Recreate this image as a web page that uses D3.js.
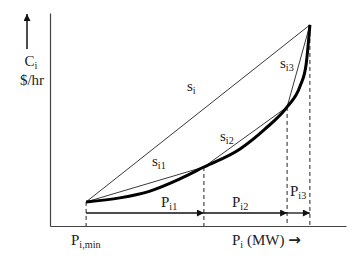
<!DOCTYPE html>
<html>
<head>
<meta charset="utf-8">
<script src="https://cdn.jsdelivr.net/npm/d3@7"></script>
<style>
  body { margin: 0; background: #fff; }
  text { font-family: "Liberation Serif", "DejaVu Serif", serif; fill: #222; }
</style>
</head>
<body>
<div id="chart"></div>
<script>
// breakpoints on the cost curve: Pmin, P1, P2, Pmax (MW) and cost ($/hr)
var breakP = [12.2, 52.0, 80.1, 87.8];
var breakC = [11.3, 27.7, 55.9, 94.4];

// thick cost curve
var curveP = [12.2, 23.6, 33.8, 43.9, 52.0, 64.2, 72.6, 80.1, 84.5, 86.5, 87.8];
var curveC = [11.3, 13.2, 16.4, 22.1, 27.7, 36.2, 45.5, 55.9, 65.7, 75.6, 94.4];

var segLabels = ["P", "P", "P"];
var segSubs = ["i1", "i2", "i3"];
var slopeSubs = ["i1", "i2", "i3"];

var svgWidth = 364;
var svgHeight = 259;

var svg = d3.select("#chart")
  .append("svg")
  .attr("width", svgWidth)
  .attr("height", svgHeight);

var x = d3.scaleLinear().domain([0, 100]).range([50, 346]);
var y = d3.scaleLinear().domain([0, 100]).range([226, 13]);

// arrow marker
svg.append("defs").append("marker")
  .attr("id", "head")
  .attr("viewBox", "0 0 10 10")
  .attr("refX", 10).attr("refY", 5)
  .attr("markerWidth", 9).attr("markerHeight", 7)
  .attr("markerUnits", "userSpaceOnUse")
  .attr("orient", "auto")
  .append("path")
  .attr("d", "M0,0L10,5L0,10Z")
  .attr("fill", "#111");

// axes, no ticks
svg.append("g")
  .attr("transform", "translate(0," + y(0) + ")")
  .call(d3.axisBottom(x).tickValues([]).tickSizeOuter(0))
  .select(".domain").attr("stroke", "#444").attr("stroke-width", 1.2);

svg.append("g")
  .attr("transform", "translate(" + x(0) + ",0)")
  .call(d3.axisLeft(y).tickValues([]).tickSizeOuter(0))
  .select(".domain").attr("stroke", "#444").attr("stroke-width", 1.2);

// dashed drops from each breakpoint
svg.selectAll(".drop")
  .data(breakP)
  .enter()
  .append("line")
  .attr("x1", d => x(d)).attr("x2", d => x(d))
  .attr("y1", (d, i) => y(breakC[i]))
  .attr("y2", y(0))
  .attr("stroke", "#222")
  .attr("stroke-width", 1)
  .attr("stroke-dasharray", "4,3");

// chords
var chords = [[0, 3], [0, 1], [1, 2], [2, 3]];
svg.selectAll(".chord")
  .data(chords)
  .enter()
  .append("line")
  .attr("x1", d => x(breakP[d[0]])).attr("y1", d => y(breakC[d[0]]))
  .attr("x2", d => x(breakP[d[1]])).attr("y2", d => y(breakC[d[1]]))
  .attr("stroke", "#222")
  .attr("stroke-width", 0.9);

// cost curve
var line = d3.line()
  .x(d => x(d[0]))
  .y(d => y(d[1]))
  .curve(d3.curveMonotoneX);

svg.append("path")
  .datum(curveP.map((p, i) => [p, curveC[i]]))
  .attr("d", line)
  .attr("fill", "none")
  .attr("stroke", "#000")
  .attr("stroke-width", 3);

// segment arrows
var arrowY = y(6.1);
svg.selectAll(".seg")
  .data(d3.range(3))
  .enter()
  .append("line")
  .attr("x1", i => x(breakP[i]))
  .attr("x2", i => x(breakP[i + 1]))
  .attr("y1", arrowY).attr("y2", arrowY)
  .attr("stroke", "#111")
  .attr("stroke-width", 1.3)
  .attr("marker-end", "url(#head)");

// labels with subscripts
function label(tx, ty, main, sub, size) {
  var t = svg.append("text")
    .attr("x", tx).attr("y", ty)
    .style("font-size", size + "px");
  t.append("tspan").text(main);
  t.append("tspan")
    .attr("dy", size * 0.22)
    .style("font-size", (size * 0.68) + "px")
    .text(sub);
  return t;
}

label(161, 207, segLabels[0], segSubs[0], 15);
label(232, 207, segLabels[1], segSubs[1], 15);
label(290, 196, segLabels[2], segSubs[2], 15);

label(187, 91, "s", "i", 15);
label(152, 166, "s", slopeSubs[0], 15);
label(220, 141, "s", slopeSubs[1], 15);
label(280, 68, "s", slopeSubs[2], 15);

label(71, 245, "P", "i,min", 15);
var pl = label(232, 245, "P", "i", 15);
pl.append("tspan").attr("dy", -15 * 0.22).text(" (MW) ");
pl.append("tspan")
  .style("font-family", "DejaVu Sans")
  .style("font-weight", "bold")
  .style("font-size", "15px")
  .text("\u2192");

label(31, 66, "C", "i", 15).attr("text-anchor", "middle");
svg.append("text")
  .attr("x", 32).attr("y", 85)
  .attr("text-anchor", "middle")
  .style("font-size", "15px")
  .text("$/hr");

// up arrow
svg.append("line")
  .attr("x1", 27).attr("x2", 27)
  .attr("y1", 49).attr("y2", 14)
  .attr("stroke", "#111")
  .attr("stroke-width", 1.5)
  .attr("marker-end", "url(#head)");
</script>
</body>
</html>
